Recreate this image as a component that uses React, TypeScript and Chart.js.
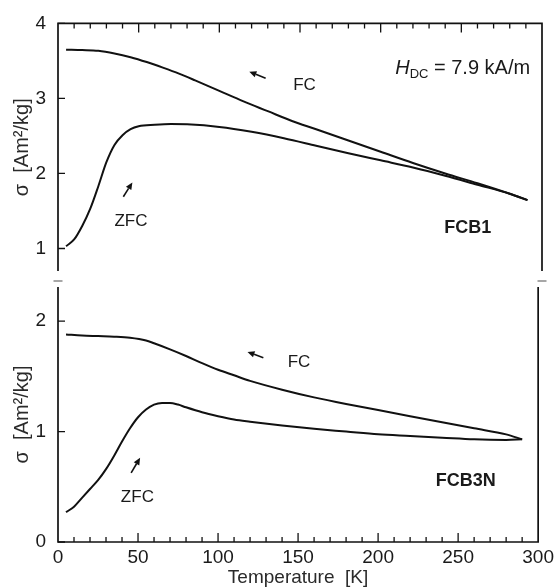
import React, { useEffect, useRef } from "react";
import { Chart, registerables } from "chart.js";

Chart.register(...registerables);

const FONT = "'Liberation Sans', Arial, Helvetica, sans-serif";
const INK = "#111111";
const TEXT = "#1a1a1a";

// ---- axes ----
const X_MIN = 0;
const X_MAX = 300;
const X_STEP = 50;
const X_MINOR = 10;
const xTitle = "Temperature  [K]";
const yTitle = "σ  [Am²/kg]";
const topYMin = 0.7;
const topYMax = 4;
const topYTicks = [1, 2, 3, 4];
const bottomYMin = 0;
const bottomYMax = 2.31;
const bottomYTicks = [0, 1, 2];

// ---- FCB1 (top panel) ----
const fcTopT = [5, 15, 25, 35, 45, 55, 65, 75, 85, 100, 115, 130, 145, 160, 180, 200, 220, 240, 260, 280, 291];
const fcTopSigma = [3.65, 3.645, 3.635, 3.6, 3.55, 3.485, 3.41, 3.33, 3.24, 3.1, 2.96, 2.83, 2.7, 2.59, 2.44, 2.29, 2.14, 2.0, 1.87, 1.73, 1.645];
const zfcTopT = [5, 10, 15, 20, 25, 30, 35, 40, 45, 50, 60, 70, 80, 100, 120, 140, 160, 180, 200, 220, 240, 260, 280, 291];
const zfcTopSigma = [1.03, 1.12, 1.3, 1.53, 1.83, 2.15, 2.38, 2.51, 2.59, 2.63, 2.65, 2.66, 2.655, 2.62, 2.555, 2.47, 2.37, 2.27, 2.175, 2.08, 1.97, 1.85, 1.73, 1.645];

// ---- FCB3N (bottom panel) ----
const fcBotT = [5, 15, 25, 35, 45, 55, 60, 70, 80, 90, 100, 110, 120, 140, 160, 180, 200, 220, 240, 260, 280, 290];
const fcBotSigma = [1.88, 1.87, 1.865, 1.86, 1.85, 1.825, 1.8, 1.745, 1.685, 1.62, 1.56, 1.51, 1.46, 1.38, 1.31, 1.25, 1.195, 1.14, 1.085, 1.03, 0.975, 0.93];
const zfcBotT = [5, 10, 15, 20, 25, 30, 35, 40, 45, 50, 55, 60, 65, 70, 75, 80, 90, 100, 110, 120, 140, 160, 180, 200, 220, 240, 260, 280, 290];
const zfcBotSigma = [0.27, 0.32, 0.4, 0.48, 0.56, 0.66, 0.78, 0.91, 1.03, 1.13, 1.2, 1.245, 1.26, 1.26, 1.245, 1.22, 1.175, 1.14, 1.11, 1.09, 1.055, 1.025, 1.0, 0.975, 0.96, 0.945, 0.93, 0.925, 0.93];

// ---- annotations (data coordinates) ----
type Note = { text: string; x: number; y: number; bold?: boolean };
type Arrow = { x0: number; y0: number; x1: number; y1: number };

const topNotes: Note[] = [
  { text: "FC", x: 152.8, y: 3.17 },
  { text: "ZFC", x: 45.2, y: 1.36 },
  { text: "FCB1", x: 254, y: 1.27, bold: true },
];
const topArrows: Arrow[] = [
  { x0: 128.7, y0: 3.27, x1: 118.6, y1: 3.355 },
  { x0: 40.5, y0: 1.69, x1: 46.1, y1: 1.88 },
];
const bottomNotes: Note[] = [
  { text: "FC", x: 150.6, y: 1.628 },
  { text: "ZFC", x: 49.6, y: 0.403 },
  { text: "FCB3N", x: 254.8, y: 0.552, bold: true },
];
const bottomArrows: Arrow[] = [
  { x0: 128.3, y0: 1.67, x1: 118.4, y1: 1.722 },
  { x0: 45.7, y0: 0.627, x1: 51.3, y1: 0.763 },
];
const fieldAt = { x: 209, y: 3.33 };

const W = 558;
const H = 588;

function pts(t: number[], v: number[]) {
  return t.map((x, i) => ({ x, y: v[i] }));
}

function drawArrow(ctx: CanvasRenderingContext2D, x0: number, y0: number, x1: number, y1: number) {
  const ang = Math.atan2(y1 - y0, x1 - x0);
  const hl = 7;
  const hw = 3.2;
  const bx = x1 - hl * Math.cos(ang);
  const by = y1 - hl * Math.sin(ang);
  ctx.beginPath();
  ctx.moveTo(x0, y0);
  ctx.lineTo(bx, by);
  ctx.stroke();
  ctx.beginPath();
  ctx.moveTo(x1, y1);
  ctx.lineTo(bx + hw * Math.sin(ang), by - hw * Math.cos(ang));
  ctx.lineTo(bx - hw * Math.sin(ang), by + hw * Math.cos(ang));
  ctx.closePath();
  ctx.fill();
}

function panelPlugin(kind: "top" | "bottom", notes: Note[], arrows: Arrow[]) {
  return {
    id: "panel-" + kind,
    afterDraw(chart: any) {
      const { ctx, chartArea: a, scales } = chart;
      const xs = scales.x;
      const ys = scales.y;
      ctx.save();
      ctx.strokeStyle = INK;
      ctx.fillStyle = INK;
      ctx.lineWidth = 1.7;
      ctx.beginPath();
      if (kind === "top") {
        ctx.moveTo(a.left, a.bottom);
        ctx.lineTo(a.left, a.top);
        ctx.lineTo(a.right, a.top);
        ctx.lineTo(a.right, a.bottom);
      } else {
        ctx.moveTo(a.left, a.top);
        ctx.lineTo(a.left, a.bottom);
        ctx.lineTo(a.right, a.bottom);
        ctx.lineTo(a.right, a.top);
      }
      ctx.stroke();

      // inward ticks
      ctx.lineWidth = 1.3;
      ctx.beginPath();
      const edge = kind === "top" ? a.top : a.bottom;
      const dir = kind === "top" ? 1 : -1;
      for (let t = X_MIN + X_MINOR; t < X_MAX; t += X_MINOR) {
        const px = xs.getPixelForValue(t);
        const len = t % X_STEP === 0 ? 9 : 5;
        ctx.moveTo(px, edge);
        ctx.lineTo(px, edge + dir * len);
      }
      for (const tk of ys.ticks) {
        const py = ys.getPixelForValue(tk.value);
        ctx.moveTo(a.left, py);
        ctx.lineTo(a.left + 7, py);
      }
      ctx.stroke();

      // axis break marks
      if (kind === "top") {
        ctx.strokeStyle = "#8a8a8a";
        ctx.lineWidth = 1.5;
        ctx.beginPath();
        const yb = a.bottom + 10;
        ctx.moveTo(a.left - 4.5, yb);
        ctx.lineTo(a.left + 4.5, yb);
        ctx.moveTo(a.right - 4.5, yb);
        ctx.lineTo(a.right + 4.5, yb);
        ctx.stroke();
      }

      // arrows
      ctx.strokeStyle = INK;
      ctx.lineWidth = 1.6;
      for (const ar of arrows) {
        drawArrow(
          ctx,
          xs.getPixelForValue(ar.x0),
          ys.getPixelForValue(ar.y0),
          xs.getPixelForValue(ar.x1),
          ys.getPixelForValue(ar.y1)
        );
      }

      // labels
      ctx.fillStyle = TEXT;
      ctx.textAlign = "center";
      ctx.textBaseline = "middle";
      for (const n of notes) {
        ctx.font = (n.bold ? "bold 18px " : "17px ") + FONT;
        ctx.fillText(n.text, xs.getPixelForValue(n.x), ys.getPixelForValue(n.y));
      }

      if (kind === "top") {
        let x = xs.getPixelForValue(fieldAt.x);
        const y = ys.getPixelForValue(fieldAt.y);
        ctx.textAlign = "left";
        ctx.textBaseline = "alphabetic";
        ctx.font = "italic 20px " + FONT;
        ctx.fillText("H", x, y);
        x += ctx.measureText("H").width;
        ctx.font = "13px " + FONT;
        ctx.fillText("DC", x, y + 4);
        x += ctx.measureText("DC").width;
        ctx.font = "20px " + FONT;
        ctx.fillText(" = 7.9 kA/m", x, y);
      }
      ctx.restore();
    },
  };
}

function lineDs(label: string, t: number[], v: number[]) {
  return {
    label,
    data: pts(t, v),
    borderColor: INK,
    borderWidth: 2,
    pointRadius: 0,
    fill: false,
    cubicInterpolationMode: "monotone" as const,
  };
}

function yScale(min: number, max: number, ticks: number[]) {
  return {
    type: "linear" as const,
    min,
    max,
    afterBuildTicks: (s: any) => {
      s.ticks = ticks.map((value) => ({ value }));
    },
    afterFit: (s: any) => {
      s.width = 58;
    },
    grid: { display: false, drawTicks: false },
    border: { display: false },
    ticks: {
      padding: 12,
      color: TEXT,
      font: { family: FONT, size: 19 },
      callback: (v: any) => String(v),
    },
    title: {
      display: true,
      text: yTitle,
      color: "#2a2a2a",
      font: { family: FONT, size: 20, lineHeight: 1 },
      padding: { top: 12, bottom: 0 },
    },
  };
}

export default function App() {
  const topRef = useRef<HTMLCanvasElement>(null);
  const botRef = useRef<HTMLCanvasElement>(null);

  useEffect(() => {
    const top = new Chart(topRef.current as HTMLCanvasElement, {
      type: "line",
      data: {
        datasets: [lineDs("FC", fcTopT, fcTopSigma), lineDs("ZFC", zfcTopT, zfcTopSigma)],
      },
      options: {
        responsive: false,
        animation: false,
        layout: { padding: { top: 17, right: 16, bottom: H - 271, left: 0 } },
        plugins: { legend: { display: false }, tooltip: { enabled: false } },
        scales: {
          x: { type: "linear", min: X_MIN, max: X_MAX, display: false },
          y: yScale(topYMin, topYMax, topYTicks) as any,
        },
      },
      plugins: [panelPlugin("top", topNotes, topArrows)],
    });

    const bottom = new Chart(botRef.current as HTMLCanvasElement, {
      type: "line",
      data: {
        datasets: [lineDs("FC", fcBotT, fcBotSigma), lineDs("ZFC", zfcBotT, zfcBotSigma)],
      },
      options: {
        responsive: false,
        animation: false,
        layout: { padding: { top: 287, right: 16, bottom: 0, left: 0 } },
        plugins: { legend: { display: false }, tooltip: { enabled: false } },
        scales: {
          x: {
            type: "linear",
            min: X_MIN,
            max: X_MAX,
            afterFit: (s: any) => {
              s.height = 46;
            },
            grid: { display: false, drawTicks: false },
            border: { display: false },
            ticks: {
              stepSize: X_STEP,
              padding: 4,
              maxRotation: 0,
              color: TEXT,
              font: { family: FONT, size: 19 },
            },
            title: {
              display: true,
              text: xTitle,
              color: "#2a2a2a",
              font: { family: FONT, size: 19, lineHeight: 1 },
              padding: { top: 0, bottom: 0.5 },
            },
          },
          y: yScale(bottomYMin, bottomYMax, bottomYTicks) as any,
        },
      },
      plugins: [panelPlugin("bottom", bottomNotes, bottomArrows)],
    });

    return () => {
      top.destroy();
      bottom.destroy();
    };
  }, []);

  return (
    <div style={{ position: "absolute", left: 0, top: 0, width: W, height: H, background: "#fff" }}>
      <canvas ref={topRef} width={W} height={H} style={{ position: "absolute", left: 0, top: 0, display: "block" }} />
      <canvas ref={botRef} width={W} height={H} style={{ position: "absolute", left: 0, top: 0, display: "block" }} />
    </div>
  );
}
